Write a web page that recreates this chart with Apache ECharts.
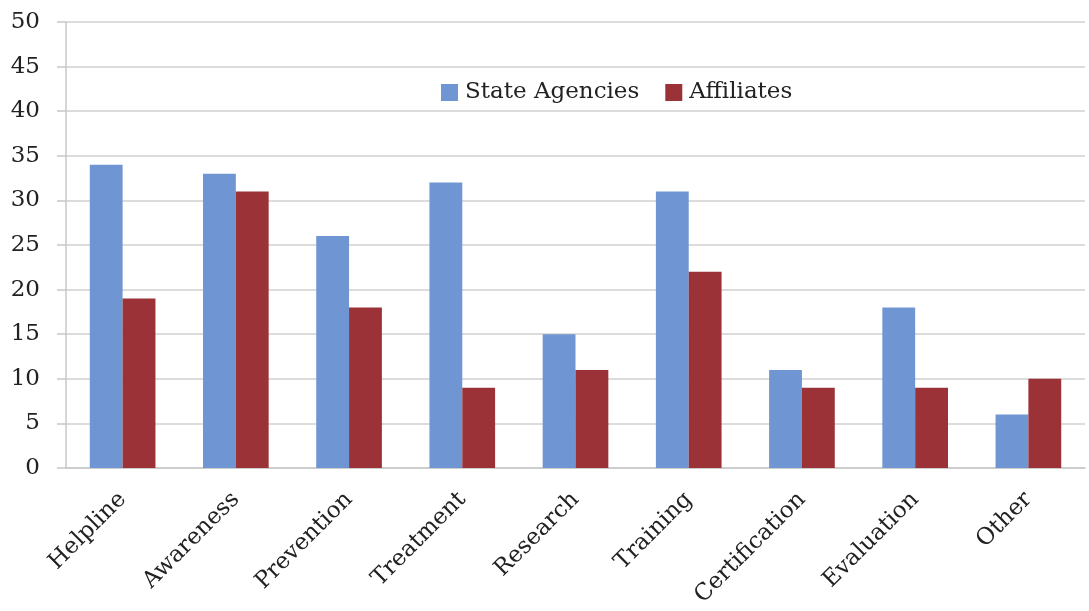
<!DOCTYPE html>
<html>
<head>
<meta charset="utf-8">
<script src="https://cdn.jsdelivr.net/npm/echarts@6/dist/echarts.min.js"></script>
<style>
  html, body { margin: 0; padding: 0; background: #fff; }
  #chart { width: 1089px; height: 611px; }
</style>
</head>
<body>
<div id="chart"></div>
<script>
const categories = ['Helpline', 'Awareness', 'Prevention', 'Treatment', 'Research', 'Training', 'Certification', 'Evaluation', 'Other'];
const stateAgencies = [34, 33, 26, 32, 15, 31, 11, 18, 6];
const affiliates = [19, 31, 18, 9, 11, 22, 9, 9, 10];

const font = 'DejaVu Serif';
const chart = echarts.init(document.getElementById('chart'));
chart.setOption({
  animation: false,
  textStyle: { fontFamily: font },
  legend: {
    top: 76,
    left: 436,
    icon: 'rect',
    itemWidth: 17,
    itemHeight: 17,
    itemGap: 26,
    textStyle: { fontFamily: font, fontSize: 23, color: '#222', padding: [0, 0, 0, 2] },
    data: ['State Agencies', 'Affiliates']
  },
  grid: { left: 66, right: 4, top: 22, bottom: 143 },
  xAxis: {
    type: 'category',
    data: categories,
    axisLine: { lineStyle: { color: '#c8c8c8', width: 1.5 } },
    axisTick: { length: 10, lineStyle: { color: '#c8c8c8', width: 1.5 } },
    axisLabel: { rotate: 45, fontFamily: font, fontSize: 23, color: '#222', margin: 28, interval: 0 }
  },
  yAxis: {
    type: 'value',
    min: 0,
    max: 50,
    interval: 5,
    axisLine: { show: true, lineStyle: { color: '#c8c8c8', width: 1.5 } },
    axisTick: { show: true, length: 9, lineStyle: { color: '#c8c8c8', width: 1.5 } },
    splitLine: { lineStyle: { color: '#d0d0d0', width: 1.5 } },
    axisLabel: { fontFamily: font, fontSize: 23, color: '#222', margin: 26 }
  },
  series: [
    {
      name: 'State Agencies',
      type: 'bar',
      data: stateAgencies,
      barGap: '0%',
      barCategoryGap: '42%',
      itemStyle: { color: '#6f96d3' }
    },
    {
      name: 'Affiliates',
      type: 'bar',
      data: affiliates,
      itemStyle: { color: '#9a3237' }
    }
  ]
});
</script>
</body>
</html>
